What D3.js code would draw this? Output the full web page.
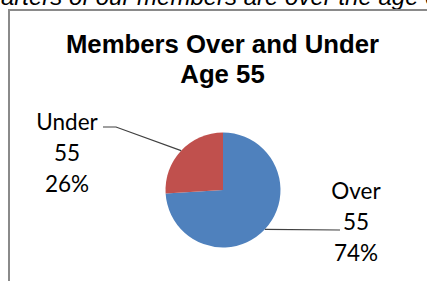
<!DOCTYPE html>
<html><head><meta charset="utf-8">
<script src="https://cdn.jsdelivr.net/npm/d3@7"></script>
<style>html,body{margin:0;padding:0;background:#fff;overflow:hidden}svg{display:block}</style>
</head><body>
<svg id="c" width="427" height="281"></svg>
<script>
const categories = ["Over 55", "Under 55"];
const values = [74, 26];
const labelLines = [["Over", "55", "74%"], ["Under", "55", "26%"]];
const titleLines = ["Members Over and Under", "Age 55"];
const captionText = "Three-quarters of our members are over the age of 55.";
const colors = ["#4F81BD", "#C0504D"];

const svg = d3.select("#c");
const W = 427, H = 281;

// caption text cut off at top (as in the reference crop)
const cap = svg.append("text")
  .attr("y", 5)
  .attr("font-family", "Liberation Sans, Arial, sans-serif")
  .attr("font-style", "italic")
  .attr("font-size", 24)
  .attr("fill", "#000")
  .text(captionText);
const tmp = svg.append("text").attr("font-family", "Liberation Sans, Arial, sans-serif")
  .attr("font-style", "italic").attr("font-size", 24).text("Three-qu");
const pre = tmp.node().getComputedTextLength();
tmp.remove();
cap.attr("x", -pre + 1);

// chart frame
svg.append("path")
  .attr("d", `M9,${H + 5}V10H${W + 5}`)
  .attr("fill", "none")
  .attr("stroke", "#8a8a8a")
  .attr("stroke-width", 2);

// title
const tcx = 222.5;
const title = svg.append("text")
  .attr("font-family", "Liberation Sans, Arial, sans-serif")
  .attr("font-weight", "bold")
  .attr("font-size", 25)
  .attr("text-anchor", "middle")
  .attr("fill", "#000")
  .attr("transform", `translate(${tcx},0) scale(1.03,1)`);
title.selectAll("tspan").data(titleLines).join("tspan")
  .attr("x", 0)
  .attr("y", (d, i) => 53 + i * 30)
  .text(d => d);

// pie
const cx = 223, cy = 190, r = 57.5;
const pie = d3.pie().sort(null).value(d => d)(values);
const arc = d3.arc().innerRadius(0).outerRadius(r);
const g = svg.append("g").attr("transform", `translate(${cx},${cy})`);
g.selectAll("path").data(pie).join("path")
  .attr("d", arc)
  .attr("fill", (d, i) => colors[i]);

// leader lines
const edge = d => {
  const a = (d.startAngle + d.endAngle) / 2;
  return [cx + r * Math.sin(a), cy - r * Math.cos(a)];
};
const pOver = edge(pie[0]), pUnder = edge(pie[1]);
const line = d3.line();
svg.append("path")
  .attr("d", line([pOver, [340, 230]]))
  .attr("fill", "none").attr("stroke", "#404040").attr("stroke-width", 1.2);
svg.append("path")
  .attr("d", line([pUnder, [116, 127], [103, 127]]))
  .attr("fill", "none").attr("stroke", "#404040").attr("stroke-width", 1.2);

// labels
const labelPos = [{x: 356, y: 199}, {x: 67, y: 130}];
labelLines.forEach((lines, i) => {
  const t = svg.append("text")
    .attr("font-family", "Lato, Open Sans, sans-serif")
    .attr("font-size", 22.5)
    .attr("text-anchor", "middle")
    .attr("fill", "#000");
  t.selectAll("tspan").data(lines).join("tspan")
    .attr("x", labelPos[i].x)
    .attr("y", (d, j) => labelPos[i].y + j * 31)
    .text(d => d);
});
</script>
</body></html>
